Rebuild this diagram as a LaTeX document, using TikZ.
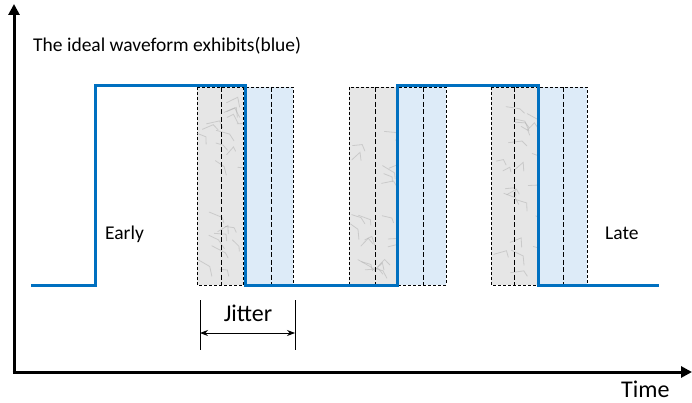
\documentclass[tikz,border=0pt]{standalone}
\usepackage{fontspec}
\setmainfont{Carlito}
\usetikzlibrary{arrows.meta}
\definecolor{wave}{HTML}{0070C0}
\definecolor{earlyfill}{HTML}{E6E6E6}
\definecolor{latefill}{HTML}{DDEBF8}
\definecolor{vein}{HTML}{A8A8A8}
\tikzset{
  axis/.style={line width=3pt,-{Triangle[length=11pt,width=11pt]}},
  wavestyle/.style={wave,line width=3pt},
  earlybox/.style={fill=earlyfill,draw=black,line width=0.6pt,dash pattern=on 3pt off 2pt},
  latebox/.style={fill=latefill,draw=black,line width=0.6pt,dash pattern=on 3pt off 2pt},
  midline/.style={draw=black,line width=0.6pt,dash pattern=on 5pt off 2.5pt},
  veinline/.style={draw=vein,line width=0.8pt,opacity=0.45,line cap=round},
  lbl/.style={inner sep=0pt,font=\fontsize{19.5}{22}\selectfont},
  biglbl/.style={inner sep=0pt,font=\fontsize{24}{28}\selectfont},
}
\begin{document}
\begin{tikzpicture}[x=1pt,y=-1pt]
\useasboundingbox (0,0) rectangle (692,403);
\pgfmathsetseed{7}
% jitter boxes
\foreach \a/\m/\b/\n/\c in {197/221/243/271/293, 349/375/396/423/446, 491/514/537/563/587}{
  \path[earlybox] (\a,87) rectangle (\b,285);
  \begin{scope}
    \clip (\a,87) rectangle (\b,285);
    \foreach \k in {1,...,22}{
      \pgfmathsetmacro{\vx}{\a+rnd*(\b-\a)}
      \pgfmathsetmacro{\vy}{100+rnd*175}
      \pgfmathsetmacro{\dx}{6+rnd*8}
      \pgfmathsetmacro{\dy}{-8+rnd*16}
      \draw[veinline] (\vx,\vy) -- ++(\dx,\dy) -- ++(rnd*6,4+rnd*6);
    }
  \end{scope}
  \path[latebox] (\b,87) rectangle (\c,285);
  \draw[midline] (\m,87) -- (\m,285);
  \draw[midline] (\n,87) -- (\n,285);
}
% axes
\coordinate (o) at (14,372);
\coordinate (ytip) at (14,4);
\coordinate (xtip) at (692,372);
\draw[axis] ([yshift=-1.5pt]o) -- (ytip);
\draw[axis] ([xshift=-1.5pt]o) -- (xtip);
% waveform
\draw[wavestyle] (31,285) -- (95,285) -- (95,86) -- (245,86) -- (245,285) -- (397,285) -- (397,86) -- (538,86) -- (538,285) -- (659,285);
% labels
\node[lbl,anchor=base west] (title) at (33,52) {The ideal waveform exhibits(blue)};
\node[lbl,anchor=base west] (early) at (105,239) {Early};
\node[lbl,anchor=base west] (late) at (605,239) {Late};
\node[biglbl,anchor=base west] (time) at (621,397) {Time};
% jitter
\coordinate (j1t) at (200,300);
\coordinate (j1b) at (200,350);
\coordinate (j2t) at (295,300);
\coordinate (j2b) at (295,350);
\draw[line width=0.8pt] (j1t) -- (j1b);
\draw[line width=0.8pt] (j2t) -- (j2b);
\coordinate (ja) at (200,333);
\coordinate (jb) at (295,333);
\draw[line width=0.8pt,{Stealth[length=8pt,width=6pt]}-{Stealth[length=8pt,width=6pt]}] (ja) -- (jb);
\node[biglbl,anchor=base] (jitter) at (248,321) {Jitter};
\end{tikzpicture}
\end{document}
